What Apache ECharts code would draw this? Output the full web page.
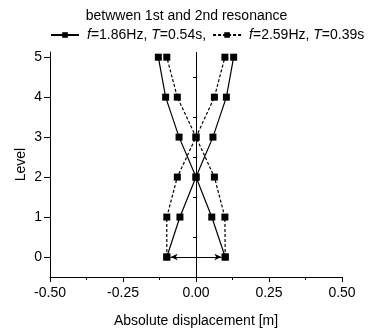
<!DOCTYPE html>
<html><head><meta charset="utf-8">
<script src="https://cdn.jsdelivr.net/npm/echarts@6/dist/echarts.min.js"></script>
<style>html,body{margin:0;padding:0;background:#fff}#c{width:373px;height:328px}</style>
</head><body><div id="c"></div>
<script>
var levels = [0, 1, 2, 3, 4, 5];
var solidA = [-0.100, -0.055, 0.000, 0.058, 0.104, 0.129];
var solidB = [0.100, 0.054, 0.000, -0.058, -0.104, -0.129];
var dashedA = [-0.100, -0.100, -0.064, 0.000, 0.063, 0.099];
var dashedB = [0.100, 0.099, 0.063, 0.000, -0.064, -0.100];
var xTicks = [-0.50, -0.25, 0.00, 0.25, 0.50];
var yTicks = [0, 1, 2, 3, 4, 5];
var yMinorTicks = [0.5, 1.5, 2.5, 3.5, 4.5];
var arrowFrom = [-0.087, 0];
var arrowTo = [0.087, 0];
var titleText = 'betwwen 1st and 2nd resonance';
var name1 = 'f=1.86Hz, T=0.54s,';
var name2 = 'f=2.59Hz, T=0.39s';

var FONT = 'Liberation Sans';
function pts(xs){ return xs.map(function(x,i){ return [x, levels[i]]; }); }
function mk(name, xs, dashed){
  return {
    type:'line', name:name, data:pts(xs), xAxisIndex:0, yAxisIndex:0,
    symbol:'rect', symbolSize:7, showSymbol:true,
    itemStyle:{color:'#000'},
    lineStyle:{color:'#000', width:1.2, type: dashed ? [3,2] : 'solid'},
    animation:false, z:3
  };
}
var series = [mk(name1, solidA, false), mk(name1, solidB, false), mk(name2, dashedA, true), mk(name2, dashedB, true)];
series.push({
  type:'line', data:[], xAxisIndex:0, yAxisIndex:0, silent:true,
  markLine:{
    silent:true, animation:false,
    label:{show:false},
    data:[
      [{xAxis:0, yAxis:-0.5, symbol:'none'}, {xAxis:0, yAxis:5.13, symbol:'none'}],
      [{coord:arrowFrom, symbol:'arrow', symbolSize:[5,7]}, {coord:arrowTo, symbol:'arrow', symbolSize:[5,7]}]
    ],
    lineStyle:{color:'#000', width:1, type:'solid'}
  }
});

var chart = echarts.init(document.getElementById('c'), null, {renderer:'canvas'});
chart.setOption({
  backgroundColor:'#fff',
  animation:false,
  textStyle:{fontFamily:FONT, color:'#000'},
  title:{text:titleText, left:'center', top:4, textStyle:{fontFamily:FONT, fontSize:14, fontWeight:'normal', color:'#000'}},
  legend:{
    left:45, top:23, itemGap:6, itemWidth:28, itemHeight:7,
    data:[name1, name2],
    formatter:function(n){ return n.replace(/^f/, '{i|f}').replace(/T=/, '{i|T}='); },
    textStyle:{fontFamily:FONT, fontSize:14, color:'#000', padding:[0,0,0,3],
      rich:{i:{fontStyle:'italic', fontFamily:FONT, fontSize:14, color:'#000'}}}
  },
  grid:{left:50, right:31, top:52, bottom:51, containLabel:false, outerBoundsMode:'none'},
  xAxis:{
    type:'value', min:-0.5, max:0.5, interval:0.25,
    name:'Absolute displacement [m]', nameLocation:'middle', nameGap:37,
    nameTextStyle:{fontFamily:FONT, fontSize:14, color:'#000'},
    axisLine:{onZero:false, lineStyle:{color:'#000', width:1}},
    axisTick:{show:true, inside:false, length:5, lineStyle:{color:'#000'}},
    minorTick:{show:true, splitNumber:2, length:3, lineStyle:{color:'#000'}},
    splitLine:{show:false},
    axisLabel:{fontFamily:FONT, fontSize:14, color:'#000', margin:9,
      formatter:function(v){ return v.toFixed(2); }}
  },
  yAxis:[{
    type:'value', min:-0.5, max:5.13,
    name:'Level', nameLocation:'middle', nameGap:22, nameRotate:90, nameMoveOverlap:false,
    nameTextStyle:{fontFamily:FONT, fontSize:14, color:'#000'},
    axisLine:{onZero:false, lineStyle:{color:'#000', width:1}},
    axisTick:{show:true, inside:false, length:6, customValues:yTicks, lineStyle:{color:'#000'}},
    splitLine:{show:false},
    axisLabel:{fontFamily:FONT, fontSize:14, color:'#000', margin:8, customValues:yTicks}
  },{
    type:'value', min:-0.5, max:5.13, position:'left',
    axisLine:{show:false},
    axisTick:{show:true, inside:false, length:3, customValues:yMinorTicks, lineStyle:{color:'#000'}},
    splitLine:{show:false},
    axisLabel:{show:false}
  }],
  series:series
});
</script></body></html>
